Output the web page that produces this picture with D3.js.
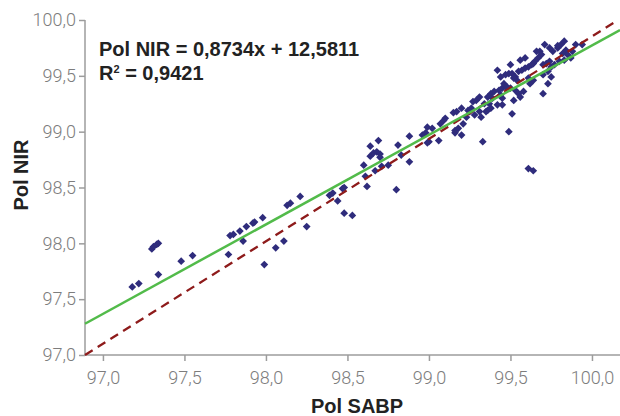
<!DOCTYPE html>
<html>
<head>
<meta charset="utf-8">
<script src="https://cdn.jsdelivr.net/npm/d3@7"></script>
<style>
  html, body { margin: 0; padding: 0; background: #fff; }
</style>
</head>
<body>
<div id="viscontainer"></div>
<script>
const width = 620;
const height = 416;

// Pol SABP (x) vs Pol NIR (y)
const polSABP = [
  97.18, 97.22, 97.34, 97.30, 97.31, 97.33, 97.34, 97.48, 97.55, 97.77,
  97.99, 97.78, 97.80, 97.84, 97.88, 97.92, 97.93, 97.98, 97.86, 98.06,
  98.11, 98.13, 98.15, 98.21, 98.25, 98.39, 98.41, 98.44, 98.47, 98.48,
  98.48, 98.53, 98.60, 98.61, 98.62, 98.64, 98.69, 98.64, 98.66, 98.68,
  98.70, 98.70, 98.67, 98.71, 98.75, 98.80, 98.81, 98.83, 98.88, 98.88,
  98.96, 98.98, 98.99, 99.00, 99.06, 99.02, 98.99, 99.09, 99.07, 99.15,
  99.17, 99.20, 99.16, 99.18, 99.16, 99.20, 99.21, 99.24, 99.26, 99.27,
  99.32, 99.33, 99.35, 99.38, 99.36, 99.38, 99.40, 99.43, 99.45, 99.47,
  99.44, 99.39, 99.37, 99.42, 99.44, 99.47, 99.49, 99.51, 99.53, 99.54,
  99.46, 99.48, 99.50, 99.51, 99.49, 99.52, 99.55, 99.57, 99.59, 99.61,
  99.63, 99.64, 99.53, 99.55, 99.58, 99.56, 99.52, 99.45, 99.45, 99.61,
  99.62, 99.64, 99.66, 99.68, 99.69, 99.67, 99.65, 99.70, 99.72, 99.74,
  99.75, 99.73, 99.70, 99.75, 99.73, 99.70, 99.76, 99.79, 99.81, 99.83,
  99.84, 99.82, 99.85, 99.88, 99.87, 99.83, 99.80, 99.77, 99.94, 99.61,
  99.64, 99.79, 99.10, 99.23, 99.31, 99.36, 99.29, 99.31, 99.34, 99.25,
  99.28, 99.71, 99.74, 99.90, 99.56, 99.59, 99.50, 99.42
];

const polNIR = [
  97.61, 97.64, 97.72, 97.95, 97.97, 97.99, 98.00, 97.84, 97.89, 97.90,
  97.81, 98.07, 98.08, 98.11, 98.15, 98.18, 98.19, 98.23, 98.02, 97.96,
  98.02, 98.34, 98.36, 98.42, 98.15, 98.43, 98.45, 98.38, 98.49, 98.50,
  98.27, 98.25, 98.70, 98.60, 98.51, 98.87, 98.92, 98.78, 98.81, 98.82,
  98.80, 98.77, 98.65, 98.69, 98.70, 98.48, 98.88, 98.79, 98.96, 98.73,
  98.97, 98.99, 99.04, 98.91, 98.92, 99.03, 98.90, 99.10, 99.07, 99.17,
  99.18, 99.21, 99.01, 99.03, 98.99, 98.97, 99.07, 99.19, 99.21, 99.27,
  99.13, 98.91, 99.18, 99.21, 99.31, 99.34, 99.36, 99.37, 99.39, 99.40,
  99.33, 99.30, 99.25, 99.24, 99.49, 99.51, 99.52, 99.52, 99.49, 99.46,
  99.43, 99.40, 99.39, 99.16, 99.00, 99.48, 99.54, 99.55, 99.57, 99.58,
  99.60, 99.61, 99.37, 99.34, 99.36, 99.31, 99.28, 99.30, 99.24, 99.48,
  99.43, 99.46, 99.72, 99.72, 99.69, 99.66, 99.63, 99.60, 99.61, 99.63,
  99.58, 99.54, 99.51, 99.49, 99.43, 99.34, 99.72, 99.75, 99.78, 99.81,
  99.73, 99.70, 99.69, 99.72, 99.66, 99.64, 99.63, 99.60, 99.78, 98.67,
  98.65, 99.77, 99.12, 99.13, 99.18, 99.19, 99.28, 99.31, 99.25, 99.18,
  99.15, 99.78, 99.75, 99.78, 99.64, 99.66, 99.60, 99.55
];

// 1:1 reference (dashed) and fitted line, end points as drawn
const refLine = [[96.89, 97.0], [100.16, 100.0]];
const fitLine = [[96.89, 97.28], [100.172, 99.91]];

const xTicks = [97.0, 97.5, 98.0, 98.5, 99.0, 99.5, 100.0];
const yTicks = [97.0, 97.5, 98.0, 98.5, 99.0, 99.5, 100.0];

const equationText = "Pol NIR = 0,8734x + 12,5811";
const r2Value = "0,9421";

const fmt = d => d3.format(".1f")(d).replace(".", ",");

const svg = d3.select("#viscontainer")
  .append("svg")
  .attr("width", width)
  .attr("height", height)
  .style("display", "block")
  .style("background", "#fff");

const x = d3.scaleLinear().domain([96.89, 100.172]).range([85, 620]);
const y = d3.scaleLinear().domain([97, 100]).range([355, 20]);

const axisColor = "#9c9c9c";
const labelColor = "#7d7d7d";

// y axis
const yAxis = svg.append("g")
  .attr("transform", "translate(85,0)")
  .call(d3.axisLeft(y).tickValues(yTicks).tickFormat(fmt).tickSize(6).tickPadding(3));

// x axis
const xAxis = svg.append("g")
  .attr("transform", "translate(0,355)")
  .call(d3.axisBottom(x).tickValues(xTicks).tickFormat(fmt).tickSize(6).tickPadding(10));

[xAxis, yAxis].forEach(g => {
  g.select(".domain").attr("stroke", axisColor).attr("stroke-width", 1.5);
  g.selectAll(".tick line").attr("stroke", axisColor).attr("stroke-width", 1.5);
  g.selectAll(".tick text")
    .attr("fill", labelColor)
    .style("font-family", "Roboto, 'Liberation Sans', sans-serif")
    .style("font-weight", 300)
    .style("font-size", "18px");
});

xAxis.select(".domain").attr("d", "M85,0H620");
yAxis.select(".domain").attr("d", "M0,20V355");

// points
const points = polSABP.map((d, i) => ({ x: d, y: polNIR[i] }));

svg.append("g")
  .selectAll("path")
  .data(points)
  .join("path")
  .attr("d", d3.symbol(d3.symbolSquare, 30))
  .attr("transform", d => `translate(${x(d.x)},${y(d.y)}) rotate(45)`)
  .attr("fill", "#2f2c7c");

const line = d3.line().x(d => x(d[0])).y(d => y(d[1]));

svg.append("path")
  .datum(refLine)
  .attr("d", line)
  .attr("fill", "none")
  .attr("stroke", "#8e1b1b")
  .attr("stroke-width", 2.3)
  .attr("stroke-dasharray", "9,6");

svg.append("path")
  .datum(fitLine)
  .attr("d", line)
  .attr("fill", "none")
  .attr("stroke", "#52bb4a")
  .attr("stroke-width", 2.5);

// equation
const eq = svg.append("g")
  .style("font-family", "'Liberation Sans', Arial, sans-serif")
  .style("font-weight", "bold")
  .style("font-size", "20px")
  .attr("fill", "#222");

eq.append("text")
  .attr("x", 99)
  .attr("y", 56)
  .text(equationText);

const r2 = eq.append("text")
  .attr("x", 99)
  .attr("y", 80);
r2.append("tspan").text("R");
r2.append("tspan").attr("dy", -7).style("font-size", "11px").text("2");
r2.append("tspan").attr("dy", 7).text(" = " + r2Value);

// axis titles
svg.append("text")
  .attr("x", 357)
  .attr("y", 413)
  .attr("text-anchor", "middle")
  .style("font-family", "'Liberation Sans', Arial, sans-serif")
  .style("font-weight", "bold")
  .style("font-size", "20px")
  .attr("fill", "#222")
  .text("Pol SABP");

svg.append("text")
  .attr("transform", "translate(28,175) rotate(-90)")
  .attr("text-anchor", "middle")
  .style("font-family", "'Liberation Sans', Arial, sans-serif")
  .style("font-weight", "bold")
  .style("font-size", "20px")
  .attr("fill", "#222")
  .text("Pol NIR");
</script>
</body>
</html>
